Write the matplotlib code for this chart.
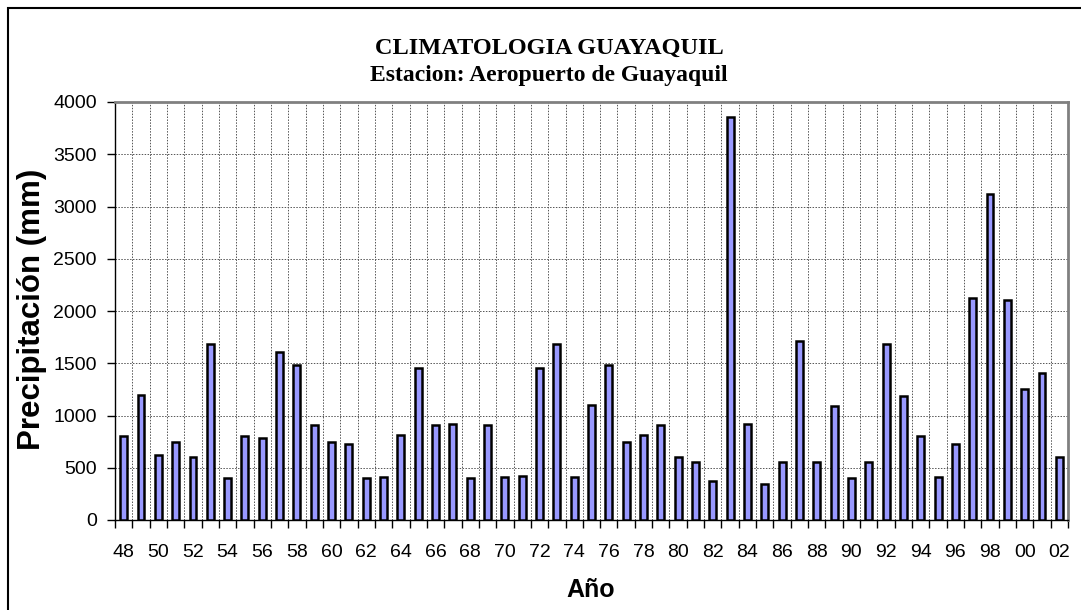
import matplotlib.pyplot as plt
from matplotlib.patches import Rectangle

# annual precipitation, Guayaquil airport station (1948-2002)
years = list(range(1948, 2003))
precip = [800, 1200, 620, 750, 600, 1680, 400, 800, 780, 1610,
          1480, 910, 750, 725, 405, 410, 810, 1455, 905, 920,
          400, 905, 410, 420, 1455, 1680, 410, 1105, 1480, 750,
          810, 905, 600, 555, 370, 3860, 915, 345, 555, 1710,
          555, 1095, 400, 555, 1680, 1185, 805, 410, 725, 2125,
          3120, 2110, 1250, 1405, 600]
year_labels = ['%02d' % (y % 100) for y in years]

title = 'CLIMATOLOGIA GUAYAQUIL'
subtitle = 'Estacion: Aeropuerto de Guayaquil'

W, H = 1081, 610
fig = plt.figure(figsize=(W / 100, H / 100), dpi=100)
ax = fig.add_axes([115 / W, 1 - 520 / H, (1068 - 115) / W, (520 - 102) / H])

x = list(range(len(years)))
ax.bar(x, precip, width=0.4, color='#9999FF', edgecolor='black', linewidth=1.8, zorder=3)

ax.set_xlim(-0.5, len(years) - 0.5)
ax.set_ylim(0, 4000)
ax.set_yticks(range(0, 4001, 500))

# major ticks on category boundaries (grid + tick marks), labels on minor ticks
ax.set_xticks([i - 0.5 for i in range(len(years) + 1)])
ax.set_xticklabels([])
ax.set_xticks(x[::2], minor=True)
ax.set_xticklabels(year_labels[::2], minor=True, fontsize=14, family='Liberation Sans')
ax.tick_params(axis='x', which='major', direction='out', length=6, width=1)
ax.tick_params(axis='x', which='minor', length=0, pad=17)
ax.tick_params(axis='y', direction='out', length=6, width=1, pad=7, labelsize=14)
for lab in ax.get_yticklabels():
    lab.set_family('Liberation Sans')

ax.grid(True, which='major', linestyle=(0, (1.5, 1.5)), color='#555555', linewidth=0.7, zorder=0)
ax.set_axisbelow(True)

for side in ['top', 'right']:
    ax.spines[side].set_color('#808080')
    ax.spines[side].set_linewidth(2)
for side in ['left', 'bottom']:
    ax.spines[side].set_color('black')
    ax.spines[side].set_linewidth(1)

fig.text(32 / W, 1 - 309 / H, 'Precipitación (mm)', rotation=90, ha='center', va='center',
         fontsize=22.5, fontweight='bold', family='Liberation Sans')
fig.text(591 / W, 1 - 590 / H, 'Año', ha='center', va='center',
         fontsize=18, fontweight='bold', family='Liberation Sans')
fig.text(549 / W, 1 - 48 / H, title, ha='center', va='center',
         fontsize=17.5, fontweight='bold', family='Liberation Serif')
fig.text(549 / W, 1 - 76 / H, subtitle, ha='center', va='center',
         fontsize=17, fontweight='bold', family='Liberation Serif')

# outer chart frame
fig.patches.append(Rectangle((8 / W, -0.1), 1.2, 1 - 8 / H + 0.1, transform=fig.transFigure,
                             fill=False, edgecolor='black', linewidth=1.5))

fig.savefig('out.png', dpi=100)
plt.close(fig)
